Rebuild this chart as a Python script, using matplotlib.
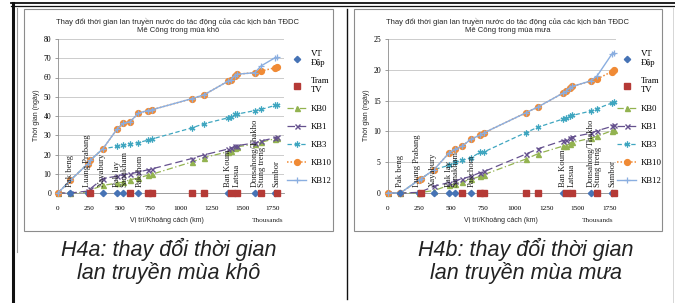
import matplotlib
matplotlib.use("Agg")
import matplotlib.pyplot as plt
from matplotlib.lines import Line2D
from matplotlib.patches import Rectangle
import matplotlib.transforms as mtransforms

# ---------------- data ----------------
positions = [0, 100, 245, 263, 366, 484, 532, 587, 655, 729, 763, 1089, 1189,
             1382, 1408, 1439, 1458, 1603, 1653, 1768, 1787]
dams = [100, 245, 366, 484, 532, 655, 1382, 1439, 1603, 1768]
stations = [263, 587, 729, 763, 1089, 1189, 1408, 1458, 1653, 1787]

# dry season (H4a)
dry_kb0 = [0, 0, 0.5, 1.5, 4, 5.1, 5.7, 6.9, 7.8, 9.2, 9.7, 16.1, 18.4, 21.4, 22, 23.6, 24, 25.4, 26.4, 28.2, 28.6]
dry_kb1 = [0, 0, 1, 2.2, 7.5, 8.8, 9.4, 10, 10.9, 12, 12.5, 17.9, 19.8, 22.8, 23.3, 24.3, 24.6, 26, 27, 28.7, 29.2]
dry_kb3 = [0, 6.6, 15.3, 17, 23, 24.2, 24.8, 25.6, 26.2, 27.4, 28, 33.8, 36, 39, 39.5, 40.8, 41, 42.8, 43.4, 45.5, 45.8]
dry_kb10 = [0, 6.6, 15.3, 17, 23, 33.5, 36.2, 37, 41.5, 42.8, 43.2, 49, 51, 58, 58.8, 61, 61.7, 62.5, 63.3, 65.1, 65.3]
dry_kb12 = [0, 6.6, 15.3, 17, 23, 33.5, 36.2, 37, 41.5, 42.8, 43.2, 49, 51, 58, 58.8, 61, 61.7, 62.5, 66, 70.3, 70.5]

# wet season (H4b)
wet_kb0 = [0, 0, 0, 0.1, 0.4, 1.25, 1.5, 1.8, 2.2, 2.7, 3.0, 5.5, 6.4, 7.6, 7.7, 8.0, 8.2, 8.9, 9.2, 10.1, 10.2]
wet_kb1 = [0, 0, 0.1, 0.2, 1.1, 1.7, 2.0, 2.3, 2.7, 3.3, 3.5, 6.3, 7.2, 8.5, 8.6, 8.9, 9.1, 9.7, 10.1, 10.8, 11.1]
wet_kb3 = [0, 0, 2.1, 2.3, 3.8, 4.5, 5.0, 5.3, 5.7, 6.6, 6.7, 9.8, 10.7, 12, 12.1, 12.5, 12.6, 13.3, 13.7, 14.6, 14.8]
wet_kb10 = [0, 0, 2.1, 2.3, 3.8, 6.5, 7.1, 7.6, 8.7, 9.4, 9.8, 13, 14, 16.2, 16.5, 17.1, 17.3, 18.2, 18.5, 19.7, 19.9]
wet_kb12 = [0, 0, 2.1, 2.3, 3.8, 6.5, 7.1, 7.6, 8.7, 9.4, 9.8, 13, 14, 16.2, 16.5, 17.1, 17.3, 18.2, 19.0, 22.5, 22.8]

label_names = ["Pak beng", "Luang Prabang", "Xayabury", "Pak lay", "Sanakham", "Pakchom",
               "Ban Koum", "Latsua", "Donsahong/Thakho", "Stung treng", "Sambor"]
label_pos = [100, 234, 355, 484, 537, 663, 1387, 1453, 1603, 1663, 1774]

xticks = [0, 250, 500, 750, 1000, 1250, 1500, 1750]
xgrid = [250, 750, 1250, 1750]

# ---------------- figure ----------------
W, H = 675, 303
fig = plt.figure(figsize=(W / 100, H / 100), dpi=100)
fig.patch.set_facecolor("white")


def fx(px):
    return px / W


def fy(py):
    return 1 - py / H


SANS = ["Liberation Sans", "DejaVu Sans"]
SERIF = ["Liberation Serif", "DejaVu Serif"]

# page frame lines
for (x0, y0, x1, y1, lw, c) in [
    (11, 3, 675, 3, 1.3, "#111111"),
    (11, 5.5, 675, 5.5, 0.9, "#111111"),
    (12.5, 3, 12.5, 303, 2.2, "#111111"),
    (16.5, 8, 16.5, 252, 0.8, "#9a9a9a"),
    (347, 9, 347, 299, 1.0, "#111111"),
    (673, 8, 673, 303, 0.6, "#d0d0d0"),
]:
    fig.add_artist(Line2D([fx(x0), fx(x1)], [fy(y0), fy(y1)], lw=lw, color=c,
                          transform=fig.transFigure, zorder=-5))

# chart boxes
for (x0, y0, x1, y1) in [(24, 9, 333, 231), (354, 9, 662, 231)]:
    fig.add_artist(Rectangle((fx(x0), fy(y1)), fx(x1) - fx(x0), fy(y0) - fy(y1),
                             transform=fig.transFigure, facecolor="white",
                             edgecolor="#8c8c8c", lw=0.8, zorder=-5))

C_DAM = "#4673b5"
C_TRAM = "#b53a36"
C_KB0 = "#93b350"
C_KB1 = "#65518e"
C_KB3 = "#3fa6c0"
C_KB10 = "#f08a35"
C_KB12 = "#8aaee0"


def draw_chart(rect, xmax, ymax, ystep, series, title, cx, legend_x, ylab_x, xlab_x, thou_x):
    ax = fig.add_axes(rect)
    ax.set_xlim(0, xmax)
    ax.set_ylim(0, ymax)
    ax.set_facecolor("none")
    ax.set_xticks(xticks)
    ax.set_xticks(xgrid, minor=True)
    ax.set_yticks(list(range(0, ymax + 1, ystep)))
    ax.grid(axis="y", which="major", color="#c4c4c4", lw=0.6)
    ax.grid(axis="x", which="minor", color="#c4c4c4", lw=0.6)
    ax.tick_params(axis="x", which="minor", length=0)
    ax.tick_params(axis="x", which="major", length=0, pad=9, labelsize=5.2)
    ax.tick_params(axis="y", which="major", length=2.5, width=0.6, color="#8c8c8c",
                   pad=2.5, labelsize=5.5)
    for lab in ax.get_xticklabels() + ax.get_yticklabels():
        lab.set_family(SERIF)
    for s in ["top", "right"]:
        ax.spines[s].set_visible(False)
    ax.spines["left"].set_color("#8c8c8c")
    ax.spines["bottom"].set_color("#8c8c8c")
    ax.spines["left"].set_linewidth(0.6)
    ax.spines["bottom"].set_linewidth(0.6)
    ax.set_axisbelow(True)

    kb0, kb1, kb3, kb10, kb12 = series
    h = []
    h += ax.plot(dams, [0] * len(dams), ls="none", marker="D", ms=3.2, color=C_DAM,
                 label="VT\nĐập", zorder=6, clip_on=False)
    h += ax.plot(stations, [0] * len(stations), ls="none", marker="s", ms=4.0, color=C_TRAM,
                 label="Tram\nTV", zorder=6, clip_on=False)
    h += ax.plot(positions, kb0, ls=(0, (5, 2, 1, 2)), lw=0.9, marker="^", ms=3.6,
                 color=C_KB0, label="KB0", zorder=3, clip_on=False)
    h += ax.plot(positions, kb1, ls=(0, (6, 3)), lw=0.9, marker="x", ms=3.6, mew=1.0,
                 color=C_KB1, label="KB1", zorder=3, clip_on=False)
    h += ax.plot(positions, kb3, ls=(0, (3.5, 2)), lw=0.9, marker=(6, 2, 0), ms=4.2, mew=0.9,
                 color=C_KB3, label="KB3", zorder=3, clip_on=False)
    h += ax.plot(positions, kb10, ls=(0, (1, 1.3)), lw=1.1, marker="o", ms=4.2,
                 color=C_KB10, label="KB10", zorder=4, clip_on=False)
    h += ax.plot(positions, kb12, ls="-", lw=1.0, marker="+", ms=4.2, mew=0.9,
                 color=C_KB12, label="KB12", zorder=5, clip_on=False)

    trans = mtransforms.blended_transform_factory(ax.transData, ax.transAxes)
    for name, xp in zip(label_names, label_pos):
        ax.text(xp, 0.04, name, transform=trans, rotation=90, ha="center", va="bottom",
                fontsize=6.2, family=SERIF, color="#222222", zorder=7)

    ax.legend(handles=h, loc="upper left",
              bbox_to_anchor=(fx(legend_x), fy(50)), bbox_transform=fig.transFigure,
              frameon=False, prop={"family": SERIF, "size": 6.3},
              handlelength=2.2, handletextpad=0.5, labelspacing=1.15,
              borderpad=0, borderaxespad=0)

    fig.text(fx(cx), fy(26), title, ha="center", va="center", fontsize=5.5,
             family=SANS, color="#262626", linespacing=1.3)
    fig.text(fx(ylab_x), fy(115), "Thời gian (ngày)", rotation=90, ha="center",
             va="center", fontsize=5.0, family=SANS, color="#262626")
    fig.text(fx(xlab_x), fy(221), "Vị trí/Khoảng cách (km)", ha="center", va="center",
             fontsize=5.0, family=SANS, color="#262626")
    fig.text(fx(thou_x), fy(221), "Thousands", ha="center", va="center",
             fontsize=5.2, family=SERIF, color="#262626")
    return ax


draw_chart([fx(58), fy(193), fx(284) - fx(58), fy(39) - fy(193)], 1840, 80, 10,
           (dry_kb0, dry_kb1, dry_kb3, dry_kb10, dry_kb12),
           "Thay đổi thời gian lan truyền nước do tác động của các kịch bản TĐDC\nMê Công trong mùa khô",
           178, 287, 37, 167, 268)

draw_chart([fx(387.7), fy(193), fx(615.7) - fx(387.7), fy(39) - fy(193)], 1800, 25, 5,
           (wet_kb0, wet_kb1, wet_kb3, wet_kb10, wet_kb12),
           "Thay đổi thời gian lan truyền nước do tác động của các kịch bản TĐDC\nMê Công trong mùa mưa",
           508, 617, 367, 501, 598)

CAP = ["Liberation Sans", "DejaVu Sans"]
for (x, y, t) in [(169, 249, "H4a: thay đổi thời gian"), (169, 273, "lan truyền mùa khô"),
                  (526, 249, "H4b: thay đổi thời gian"), (526, 273, "lan truyền mùa mưa")]:
    fig.text(fx(x), fy(y), t, ha="center", va="center", fontsize=15.5, style="italic",
             family=CAP, color="#222222")

fig.savefig("out.png", dpi=100)
